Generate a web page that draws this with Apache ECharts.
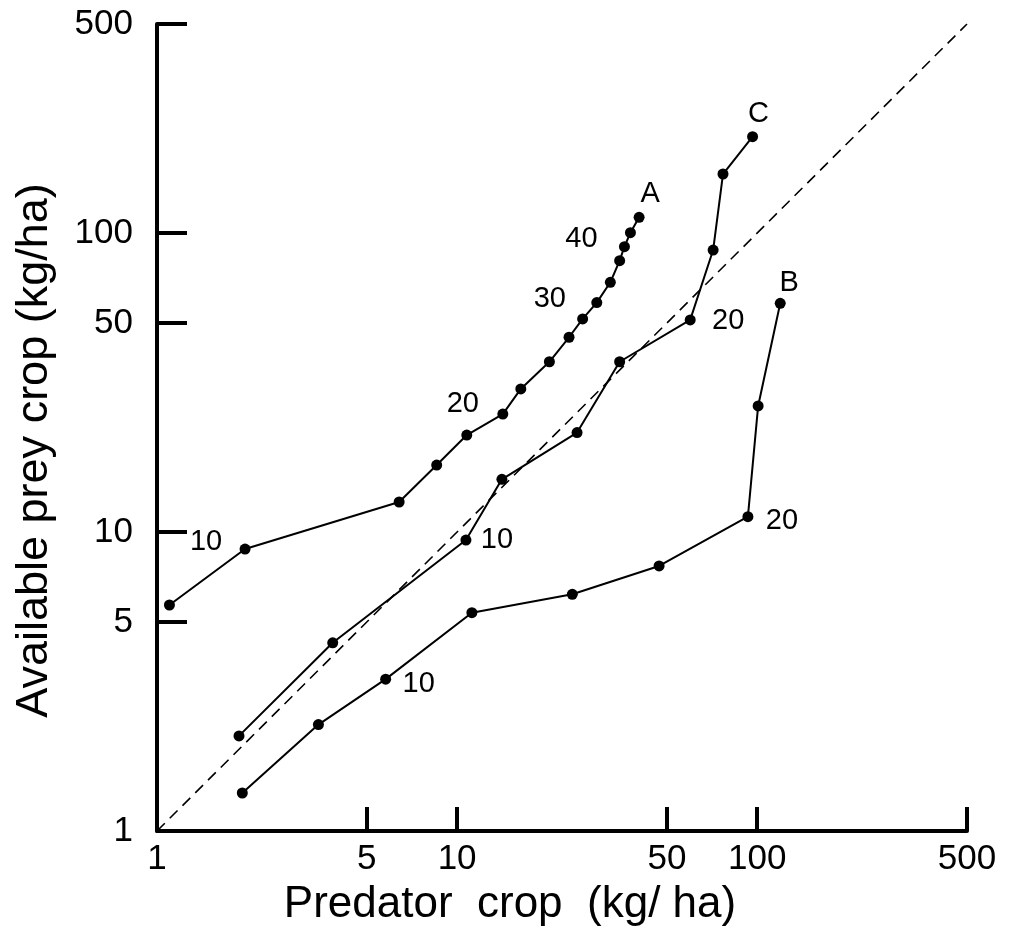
<!DOCTYPE html>
<html>
<head>
<meta charset="utf-8">
<script src="https://cdn.jsdelivr.net/npm/echarts@6/dist/echarts.min.js"></script>
<style>
  html, body { margin: 0; padding: 0; background: #fff; }
  #chart { width: 1011px; height: 944px; }
</style>
</head>
<body>
<div id="chart"></div>
<script>
// ---------- data ----------
const xTicks = [1, 5, 10, 50, 100, 500];
const yTicks = [1, 5, 10, 50, 100, 500];

const xA = [1.10, 1.965, 6.41, 8.55, 10.77, 14.2, 16.3, 20.3, 23.6, 26.2, 29.2, 32.4, 34.8, 36.1, 37.8, 40.4];
const yA = [5.70, 8.77, 12.6, 16.75, 21.1, 24.8, 30.1, 37.1, 44.8, 51.6, 58.5, 68.4, 80.8, 90.0, 100.2, 112.8];

const xC = [1.876, 3.85, 10.7, 14.1, 25.1, 34.8, 59.8, 71.3, 76.9, 96.5];
const yC = [2.08, 4.26, 9.40, 15.0, 21.5, 37.1, 51.2, 87.7, 157.5, 210];

const xB = [1.924, 3.45, 5.78, 11.2, 24.2, 47.1, 93.1, 100.7, 119.3];
const yB = [1.34, 2.27, 3.22, 5.37, 6.19, 7.70, 11.25, 26.4, 58.2];

const diagX = [1, 500];
const diagY = [1, 500];

// point annotations: [point index, text]
const notesA = [[1, '10'], [4, '20'], [10, '30'], [13, '40'], [15, 'A']];
const notesC = [[2, '10'], [6, '20'], [9, 'C']];
const notesB = [[2, '10'], [6, '20'], [8, 'B']];

// ---------- styling ----------
const FONT = '"Liberation Sans", Arial, Helvetica, sans-serif';
const noteOffsets = {
  A: { 1: [-39, -7], 4: [-4, -31], 10: [-47, -4], 13: [-43, -8], 15: [11, -23] },
  C: { 2: [31, 0], 6: [38, 1], 9: [6, -23] },
  B: { 2: [33, 5], 6: [34, 4], 8: [9, -20] }
};

function buildData(xs, ys, notes, key) {
  const map = {};
  notes.forEach(n => { map[n[0]] = n[1]; });
  return xs.map((x, i) => {
    const item = { value: [x, ys[i]] };
    if (map[i] !== undefined) {
      item.label = {
        show: true,
        formatter: map[i],
        position: 'inside',
        offset: noteOffsets[key][i],
        color: '#000',
        fontSize: 29,
        fontFamily: FONT
      };
    }
    return item;
  });
}

function curve(name, xs, ys, notes) {
  return {
    name: name,
    type: 'line',
    data: buildData(xs, ys, notes, name),
    symbol: 'circle',
    symbolSize: 11,
    itemStyle: { color: '#000' },
    lineStyle: { color: '#000', width: 2 },
    label: { show: false },
    emphasis: { disabled: true },
    animation: false,
    z: 3
  };
}

const axisLine = { show: true, onZero: false, lineStyle: { color: '#000', width: 4 } };

const option = {
  backgroundColor: '#fff',
  animation: false,
  grid: { left: 157, right: 44, top: 24, bottom: 113, containLabel: false },
  xAxis: {
    type: 'log',
    logBase: 10,
    min: 1,
    max: 500,
    axisLine: axisLine,
    axisTick: { show: true, inside: true, length: 24, customValues: xTicks, lineStyle: { color: '#000', width: 4 } },
    minorTick: { show: false },
    splitLine: { show: false },
    axisLabel: {
      customValues: xTicks,
      color: '#000',
      fontSize: 35,
      fontFamily: FONT,
      margin: 11,
      formatter: v => String(v)
    },
    name: 'Predator  crop  (kg/ ha)',
    nameLocation: 'middle',
    nameGap: 52,
    nameTextStyle: { color: '#000', fontSize: 44, fontFamily: FONT, padding: [0, 104, 0, 0] }
  },
  yAxis: {
    type: 'log',
    logBase: 10,
    min: 1,
    max: 500,
    axisLine: axisLine,
    axisTick: { show: true, inside: true, length: 30, customValues: yTicks, lineStyle: { color: '#000', width: 4 } },
    minorTick: { show: false },
    splitLine: { show: false },
    axisLabel: {
      customValues: yTicks,
      color: '#000',
      fontSize: 35,
      fontFamily: FONT,
      margin: 24,
      formatter: v => String(v)
    },
    name: 'Available prey crop (kg/ha)',
    nameLocation: 'middle',
    nameGap: 100,
    nameRotate: 90,
    nameTextStyle: { color: '#000', fontSize: 45, fontFamily: FONT, padding: [0, 46, 0, 0] }
  },
  series: [
    {
      name: 'diagonal',
      type: 'line',
      data: diagX.map((x, i) => [x, diagY[i]]),
      symbol: 'none',
      lineStyle: { color: '#000', width: 1.6, type: [11, 7] },
      emphasis: { disabled: true },
      silent: true,
      z: 2
    },
    curve('A', xA, yA, notesA),
    curve('C', xC, yC, notesC),
    curve('B', xB, yB, notesB)
  ]
};

const chart = echarts.init(document.getElementById('chart'), null, { renderer: 'canvas' });
chart.setOption(option);
</script>
</body>
</html>
